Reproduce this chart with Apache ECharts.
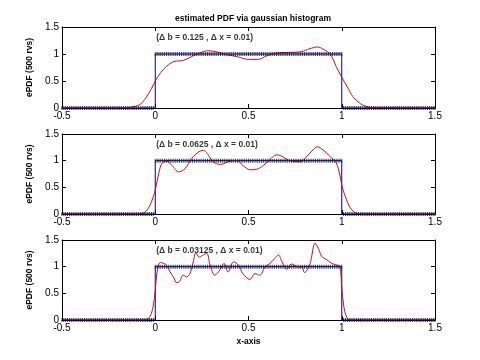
<!DOCTYPE html>
<html><head><meta charset="utf-8">
<script src="https://cdn.jsdelivr.net/npm/echarts@6/dist/echarts.min.js"></script>
<style>html,body{margin:0;padding:0;background:#fff}#c{width:480px;height:360px}</style>
</head><body><div id="c"></div>
<script>
// ---- data ----
const titleText = 'estimated PDF via gaussian histogram';
const yLabel = 'ePDF (500 rvs)';
const xLabel = 'x-axis';
const xTicks = [-0.5, 0, 0.5, 1, 1.5];
const yTicks = [0, 0.5, 1, 1.5];
const annotations = ['(\u0394 b = 0.125 , \u0394 x = 0.01)', '(\u0394 b = 0.0625 , \u0394 x = 0.01)', '(\u0394 b = 0.03125 , \u0394 x = 0.01)'];
const annotX = 0, annotY = 1.3;
// true uniform pdf (breakpoints) and sampling step
const pdfX = [-0.5, 0, 0, 1, 1, 1.5];
const pdfY = [0, 0, 1, 1, 0, 0];
const dx = 0.01;
// estimated pdfs
const kde1X = [-0.5, -0.2, -0.15, -0.12, -0.08, -0.05, -0.02, 0, 0.03, 0.06, 0.1, 0.15, 0.2, 0.24, 0.28, 0.33, 0.38, 0.44, 0.5, 0.55, 0.6, 0.65, 0.72, 0.78, 0.83, 0.87, 0.9, 0.94, 0.97, 1.0, 1.03, 1.06, 1.1, 1.13, 1.17, 1.5];
const kde1Y = [0, 0, 0.005, 0.02, 0.07, 0.19, 0.36, 0.5, 0.66, 0.77, 0.86, 0.88, 0.96, 1.02, 1.06, 1.04, 0.99, 0.95, 0.9, 0.9, 0.97, 1.02, 1.03, 1.04, 1.1, 1.13, 1.09, 0.99, 0.77, 0.57, 0.39, 0.21, 0.08, 0.03, 0.005, 0];
const kde2X = [-0.5, -0.1, -0.07, -0.05, -0.03, -0.01, 0, 0.02, 0.035, 0.06, 0.09, 0.125, 0.16, 0.195, 0.24, 0.26, 0.28, 0.31, 0.35, 0.4, 0.44, 0.47, 0.51, 0.545, 0.58, 0.615, 0.65, 0.68, 0.72, 0.78, 0.81, 0.84, 0.87, 0.9, 0.94, 0.97, 0.99, 1.0, 1.02, 1.045, 1.07, 1.1, 1.5];
const kde2Y = [0, 0, 0.01, 0.05, 0.15, 0.33, 0.45, 0.78, 0.94, 0.99, 0.91, 0.79, 0.85, 1.04, 1.18, 1.19, 1.13, 0.98, 0.93, 0.99, 1.0, 0.91, 0.83, 0.84, 0.91, 1.02, 1.11, 1.08, 1.0, 0.98, 1.07, 1.18, 1.26, 1.2, 1.07, 0.96, 0.73, 0.54, 0.32, 0.12, 0.03, 0.0, 0];
const kde3X = [-0.5, -0.06, -0.04, -0.02, -0.005, 0.005, 0.013, 0.027, 0.045, 0.06, 0.08, 0.097, 0.115, 0.13, 0.15, 0.168, 0.186, 0.204, 0.218, 0.236, 0.258, 0.276, 0.294, 0.32, 0.347, 0.369, 0.39, 0.42, 0.446, 0.47, 0.508, 0.535, 0.56, 0.59, 0.615, 0.64, 0.66, 0.68, 0.705, 0.73, 0.76, 0.787, 0.8, 0.83, 0.857, 0.875, 0.893, 0.92, 0.947, 0.973, 0.99, 1.0, 1.01, 1.027, 1.05, 1.5];
const kde3Y = [0, 0, 0.02, 0.13, 0.4, 0.75, 0.97, 1.08, 1.06, 1.03, 0.9, 0.81, 0.7, 0.72, 0.84, 0.81, 0.87, 1.09, 1.26, 1.18, 1.22, 1.25, 1.03, 0.84, 0.94, 1.06, 0.9, 1.09, 1.03, 0.87, 0.76, 0.87, 0.84, 1.0, 1.06, 1.15, 1.22, 1.09, 0.95, 1.05, 1.0, 0.99, 0.89, 1.06, 1.44, 1.34, 1.19, 1.13, 1.06, 1.03, 1.0, 0.62, 0.28, 0.05, 0, 0];

// ---- build ----
const kdeX = [kde1X, kde2X, kde3X], kdeY = [kde1Y, kde2Y, kde3Y];
const FONT = 'Liberation Sans, Arial, Helvetica, sans-serif';
const samples = [];
const nS = Math.round((pdfX[pdfX.length-1] - pdfX[0]) / dx);
for (let k = 0; k <= nS; k++) { const x = +(pdfX[0] + k*dx).toFixed(4); samples.push([x, (x >= pdfX[2] && x <= pdfX[3]) ? pdfY[2] : pdfY[0]]); }

const tops = [27, 134, 240], heights = [81, 80, 80];
const grid = [], xAxis = [], yAxis = [], series = [];
for (let i = 0; i < 3; i++) {
  grid.push({left: 62, right: 45, top: tops[i], height: heights[i], show: false});
  const baseX = {gridIndex: i, type: 'value', min: xTicks[0], max: xTicks[xTicks.length-1], interval: 0.5,
    splitLine: {show: false}, axisLine: {onZero: false, lineStyle: {color: '#000', width: 1}},
    axisTick: {inside: true, length: 4, lineStyle: {color: '#000'}}};
  xAxis.push(Object.assign({}, baseX, {position: 'bottom',
    axisLabel: {color: '#000', fontSize: 10, fontFamily: FONT, margin: 3},
    name: i === 2 ? xLabel : '', nameLocation: 'middle', nameGap: 17,
    nameTextStyle: {color: '#000', fontSize: 8.5, fontWeight: 'bold', fontFamily: FONT}}));
  xAxis.push(Object.assign({}, baseX, {position: 'top', axisLabel: {show: false}}));
  const baseY = {gridIndex: i, type: 'value', min: yTicks[0], max: yTicks[yTicks.length-1], interval: 0.5,
    splitLine: {show: false}, axisLine: {onZero: false, lineStyle: {color: '#000', width: 1}},
    axisTick: {inside: true, length: 4, lineStyle: {color: '#000'}}};
  yAxis.push(Object.assign({}, baseY, {position: 'left',
    axisLabel: {color: '#000', fontSize: 10, fontFamily: FONT, margin: 3},
    name: yLabel, nameLocation: 'middle', nameGap: 15, nameRotate: 90,
    nameTextStyle: {color: '#000', fontSize: 8.5, fontWeight: 'bold', fontFamily: FONT}}));
  yAxis.push(Object.assign({}, baseY, {position: 'right', axisLabel: {show: false}}));
  const xi = 2*i, yi = 2*i;
  series.push({type: 'line', xAxisIndex: xi, yAxisIndex: yi, data: pdfX.map((x, k) => [x, pdfY[k]]),
    showSymbol: false, lineStyle: {color: '#00008b', width: 1}, animation: false, z: 2});
  series.push({type: 'line', xAxisIndex: xi, yAxisIndex: yi, data: kdeX[i].map((x, k) => [x, kdeY[i][k]]),
    showSymbol: false, smooth: 0.35, lineStyle: {color: '#c81010', width: 1}, animation: false, z: 3});
  series.push({type: 'scatter', xAxisIndex: xi, yAxisIndex: yi, data: samples, symbol: 'rect', symbolSize: [1, 4],
    itemStyle: {color: '#0a0a35'}, animation: false, z: 4, silent: true});
  series.push({type: 'scatter', xAxisIndex: xi, yAxisIndex: yi, data: [[annotX, annotY]], symbolSize: 0,
    label: {show: true, position: 'right', distance: 1, formatter: annotations[i], color: '#000', fontSize: 8.5,
      fontWeight: 'bold', fontFamily: FONT}, animation: false, z: 5, silent: true});
}
const chart = echarts.init(document.getElementById('c'), null, {renderer: 'canvas'});
chart.setOption({
  backgroundColor: '#fff', animation: false,
  title: {text: titleText, left: 248, top: 9, textAlign: 'center',
    textStyle: {fontSize: 8.5, fontWeight: 'bold', color: '#000', fontFamily: FONT}},
  grid, xAxis, yAxis, series
});
</script></body></html>
